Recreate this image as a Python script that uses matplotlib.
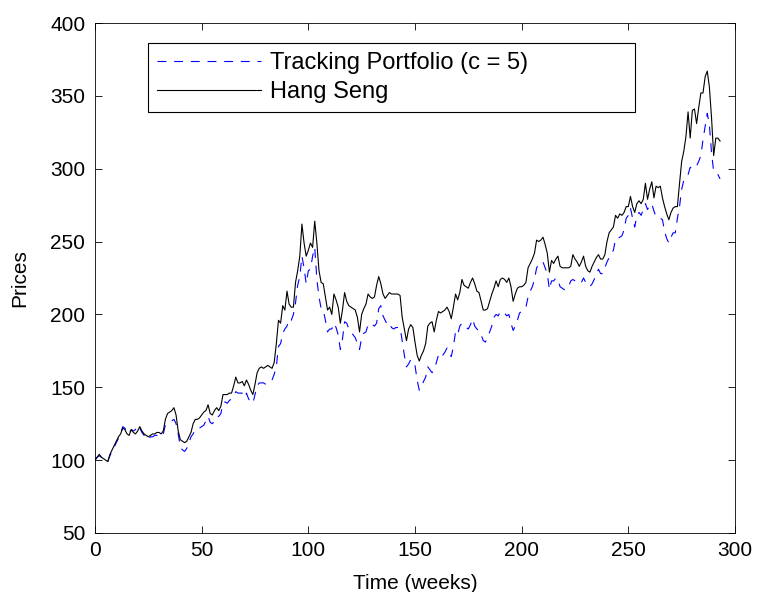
import matplotlib
matplotlib.use('Agg')
import matplotlib.pyplot as plt

# weekly closing values (week 0 .. 293)
hang_seng = [
    100, 102, 104, 102, 101, 100, 99, 104, 107, 110,
    113, 116, 118, 122, 121, 118, 117, 121, 119, 118,
    120, 123, 120, 118, 117, 116, 117, 118, 118, 119,
    119, 118, 120, 128, 132, 133, 134, 136, 131, 120,
    114, 113, 112, 113, 116, 119, 125, 128, 128, 129,
    131, 133, 134, 138, 132, 131, 134, 136, 134, 137,
    145, 145, 145, 146, 146, 151, 157, 153, 153, 154,
    151, 155, 152, 148, 145, 152, 160, 163, 164, 163,
    164, 165, 164, 163, 167, 180, 196, 194, 206, 203,
    216, 207, 205, 205, 222, 230, 240, 262, 249, 240,
    244, 249, 246, 264, 249, 230, 222, 221, 212, 203,
    205, 200, 214, 210, 205, 194, 203, 215, 209, 206,
    205, 204, 203, 198, 188, 200, 204, 207, 214, 212,
    211, 212, 220, 226, 221, 214, 211, 213, 215, 214,
    214, 214, 214, 213, 198, 190, 182, 190, 193, 191,
    181, 172, 168, 172, 175, 180, 192, 194, 195, 188,
    196, 202, 201, 202, 203, 205, 202, 197, 205, 214,
    210, 215, 224, 220, 219, 218, 222, 225, 221, 216,
    215, 209, 203, 203, 204, 209, 214, 218, 223, 219,
    224, 225, 224, 222, 225, 219, 209, 214, 218, 219,
    219, 220, 222, 232, 235, 238, 242, 251, 250, 251,
    253, 248, 242, 229, 237, 235, 238, 240, 233, 232,
    232, 232, 232, 233, 241, 238, 236, 233, 236, 240,
    233, 230, 229, 233, 236, 239, 241, 238, 238, 241,
    250, 256, 258, 260, 268, 266, 269, 268, 270, 274,
    274, 281, 274, 270, 276, 278, 276, 279, 290, 279,
    286, 291, 280, 288, 287, 288, 280, 274, 269, 265,
    270, 273, 274, 274, 290, 305, 312, 322, 339, 321,
    340, 341, 331, 342, 352, 352, 363, 367, 356, 335,
    309, 321, 321, 319,
]

tracking = [
    100, 102, 103, 102, 101, 100, 99, 103, 106, 109,
    112, 115, 118, 123, 122, 119, 118, 121, 120, 121,
    124, 122, 119, 117, 115, 114, 116, 116, 117, 117,
    117, 116, 118, 124, 125, 126, 127, 128, 125, 118,
    109, 107, 106, 108, 112, 116, 118, 121, 121, 122,
    123, 124, 127, 130, 126, 125, 127, 130, 130, 132,
    139, 140, 139, 141, 142, 144, 147, 146, 146, 146,
    143, 146, 142, 140, 139, 145, 151, 153, 153, 153,
    152, 153, 154, 155, 159, 164, 178, 180, 187, 190,
    192, 197, 196, 200, 208, 220, 226, 240, 232, 221,
    230, 231, 240, 246, 224, 212, 204, 203, 196, 188,
    190, 190, 194, 191, 186, 176, 183, 195, 194, 190,
    188, 186, 184, 180, 176, 184, 187, 188, 193, 192,
    193, 192, 194, 204, 206, 199, 196, 193, 194, 191,
    190, 191, 191, 191, 182, 172, 164, 166, 169, 168,
    165, 155, 148, 150, 154, 157, 164, 162, 160, 162,
    167, 172, 170, 172, 174, 177, 174, 171, 178, 188,
    186, 192, 194, 192, 191, 190, 193, 197, 192, 190,
    189, 186, 182, 181, 184, 188, 192, 198, 200, 199,
    202, 202, 201, 199, 200, 194, 189, 192, 196, 201,
    202, 204, 205, 212, 216, 219, 224, 232, 234, 234,
    236, 232, 228, 217, 223, 223, 225, 224, 219, 218,
    217, 217, 219, 223, 224, 223, 222, 221, 222, 225,
    222, 221, 219, 221, 224, 228, 231, 228, 228, 232,
    236, 239, 242, 244, 252, 252, 253, 254, 258, 266,
    268, 273, 266, 260, 268, 270, 268, 272, 276, 272,
    275, 276, 271, 267, 266, 266, 265, 257, 252, 249,
    253, 256, 256, 266, 274, 286, 292, 294, 296, 301,
    300, 300, 302, 305, 309, 320, 329, 338, 330, 311,
    298, 297, 296, 293,
]

weeks = list(range(len(hang_seng)))

x_ticks = [0, 50, 100, 150, 200, 250, 300]
y_ticks = [50, 100, 150, 200, 250, 300, 350, 400]

plt.rcParams['font.family'] = ['Liberation Sans', 'DejaVu Sans']

fig = plt.figure(figsize=(7.61, 5.92), dpi=100)
ax = fig.add_axes([95 / 761, 1 - 533 / 592, 640 / 761, 510 / 592])

ax.plot(weeks, tracking, color='#0000ff', linewidth=0.8, dashes=(8, 7),
        label='Tracking Portfolio (c = 5)')
ax.plot(weeks, hang_seng, color='black', linewidth=0.8, label='Hang Seng')

ax.set_xlim(0, 300)
ax.set_ylim(50, 400)
ax.set_xticks(x_ticks)
ax.set_yticks(y_ticks)
ax.tick_params(direction='in', top=True, right=True, length=5, width=0.6,
               labelsize=15)
ax.tick_params(axis='x', pad=6)
ax.tick_params(axis='y', pad=7)
for sp in ax.spines.values():
    sp.set_linewidth(0.6)

ax.set_xlabel('Time (weeks)', fontsize=15, labelpad=10)
ax.set_ylabel('Prices', fontsize=15, labelpad=15)

leg = ax.legend(loc='lower left', bbox_to_anchor=(0.0828, 0.8255, 0.761, 0.137),
                mode='expand', fancybox=False, framealpha=1, edgecolor='black',
                handlelength=4.4, handletextpad=0.4, borderpad=0.37,
                labelspacing=0.31, borderaxespad=0, fontsize=17)
leg.get_frame().set_linewidth(0.8)

fig.savefig('out.png', dpi=100)
